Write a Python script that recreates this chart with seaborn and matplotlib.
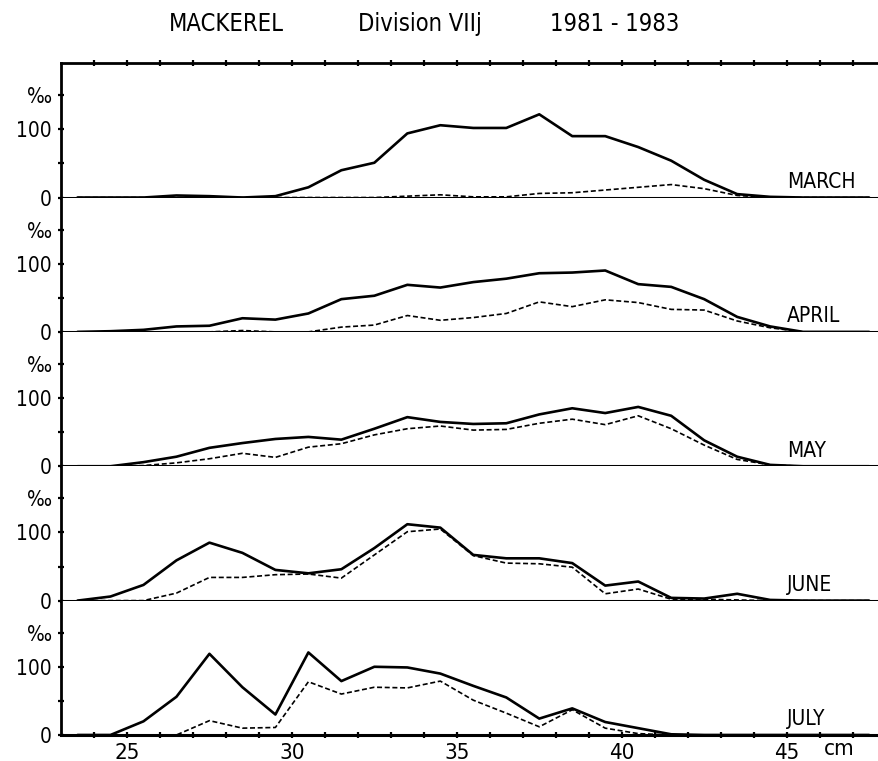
import matplotlib
matplotlib.use("Agg")
import matplotlib.pyplot as plt
import seaborn as sns
import pandas as pd

# Length classes (cm, class mid-points)
lengths = [23.5, 24.5, 25.5, 26.5, 27.5, 28.5, 29.5, 30.5, 31.5, 32.5, 33.5, 34.5,
           35.5, 36.5, 37.5, 38.5, 39.5, 40.5, 41.5, 42.5, 43.5, 44.5, 45.5, 46.5, 47.5]

months = ["MARCH", "APRIL", "MAY", "JUNE", "JULY"]

# Per mille length frequencies, solid curves
march_solid = [0, 0, 0, 3, 2, 0, 2, 15, 40, 51, 94, 106, 102, 102, 122, 90, 90, 74, 54, 26, 5, 1, 0, 0, 0]
april_solid = [0, 1, 3, 8, 9, 20, 18, 27, 48, 53, 69, 65, 73, 78, 86, 87, 90, 70, 66, 48, 22, 8, 0, 0, 0]
may_solid   = [0, 0, 6, 14, 27, 34, 40, 43, 39, 55, 72, 65, 62, 63, 76, 85, 78, 87, 74, 38, 14, 2, 0, 0, 0]
june_solid  = [0, 6, 23, 59, 85, 70, 45, 40, 46, 77, 112, 107, 67, 62, 62, 55, 22, 28, 4, 3, 10, 1, 0, 0, 0]
july_solid  = [0, 0, 20, 56, 119, 70, 30, 121, 79, 100, 99, 90, 72, 55, 24, 39, 19, 10, 1, 0, 0, 0, 0, 0, 0]

# Per mille length frequencies, dashed curves
march_dashed = [0, 0, 0, 0, 0, 0, 0, 0, 0, 0, 2, 4, 1, 1, 6, 7, 11, 15, 19, 13, 3, 0, 0, 0, 0]
april_dashed = [0, 0, 0, 0, 0, 2, 0, 0, 7, 10, 24, 17, 21, 27, 44, 37, 47, 43, 33, 32, 16, 6, 0, 0, 0]
may_dashed   = [0, 0, 1, 5, 11, 19, 13, 28, 33, 46, 55, 59, 53, 54, 63, 69, 61, 74, 55, 31, 10, 2, 0, 0, 0]
june_dashed  = [0, 0, 0, 11, 34, 34, 38, 39, 33, 67, 101, 105, 66, 55, 54, 49, 10, 17, 2, 2, 1, 0, 0, 0, 0]
july_dashed  = [0, 0, 0, 0, 21, 10, 11, 78, 60, 70, 69, 79, 51, 32, 12, 37, 10, 2, 0, 0, 0, 0, 0, 0, 0]

solid_series = [march_solid, april_solid, may_solid, june_solid, july_solid]
dashed_series = [march_dashed, april_dashed, may_dashed, june_dashed, july_dashed]

x_ticks = list(range(24, 48))
x_labels = [str(t) if t % 5 == 0 else "" for t in x_ticks]
y_ticks = [0, 50, 100, 150]
y_labels = ["0", "", "100", "\u2030"]

sns.set_style("white")
plt.rcParams["font.family"] = ["DejaVu Sans"]
plt.rcParams["font.stretch"] = "condensed"
plt.rcParams["text.color"] = "black"
plt.rcParams["xtick.color"] = "black"
plt.rcParams["ytick.color"] = "black"

fig, axes = plt.subplots(5, 1, figsize=(8.79, 7.61), dpi=100, sharex=True)
fig.subplots_adjust(left=0.0694, right=1.0, top=0.917, bottom=0.0342, hspace=0)

for i, ax in enumerate(axes):
    df = pd.DataFrame({"length": lengths,
                       "solid": solid_series[i],
                       "dashed": dashed_series[i]})
    sns.lineplot(data=df, x="length", y="dashed", ax=ax, color="black",
                 lw=1.2, linestyle=(0, (3, 1.6)))
    sns.lineplot(data=df, x="length", y="solid", ax=ax, color="black", lw=1.9)

    ax.set_xlim(23, 47.8)
    ax.set_ylim(0, 197)
    ax.set_xlabel("")
    ax.set_ylabel("")

    for side in ["right", "top"]:
        ax.spines[side].set_visible(False)
    ax.spines["left"].set_linewidth(2.0)
    ax.spines["bottom"].set_linewidth(2.2)
    for s in ax.spines.values():
        s.set_color("black")

    ax.set_yticks(y_ticks)
    ax.set_yticklabels(y_labels, fontsize=15)
    ax.tick_params(axis="y", left=True, direction="inout", length=5, width=1.6,
                   pad=4, colors="black")

    ax.set_xticks(x_ticks)
    ax.tick_params(axis="x", bottom=False, top=False, labelbottom=False)

    ax.text(45.0, 14, months[i], fontsize=15, ha="left", va="baseline")

# Frame top with centimetre ticks
axes[0].spines["top"].set_visible(True)
axes[0].spines["top"].set_linewidth(2.0)
axes[0].tick_params(axis="x", top=True, direction="inout", length=5, width=1.6)

# Length axis at the bottom
axes[-1].set_xticklabels(x_labels)
axes[-1].tick_params(axis="x", bottom=True, labelbottom=True, direction="inout",
                     length=5, width=1.6, pad=3, labelsize=16, colors="black")
axes[-1].text(46.6, -6, "cm", fontsize=16, ha="center", va="top")

fig.text(0.192, 0.969, "MACKEREL", fontsize=17, ha="left", va="center")
fig.text(0.407, 0.969, "Division VIIj", fontsize=17, ha="left", va="center")
fig.text(0.626, 0.969, "1981 - 1983", fontsize=17, ha="left", va="center")

fig.savefig("out.png", dpi=100)
